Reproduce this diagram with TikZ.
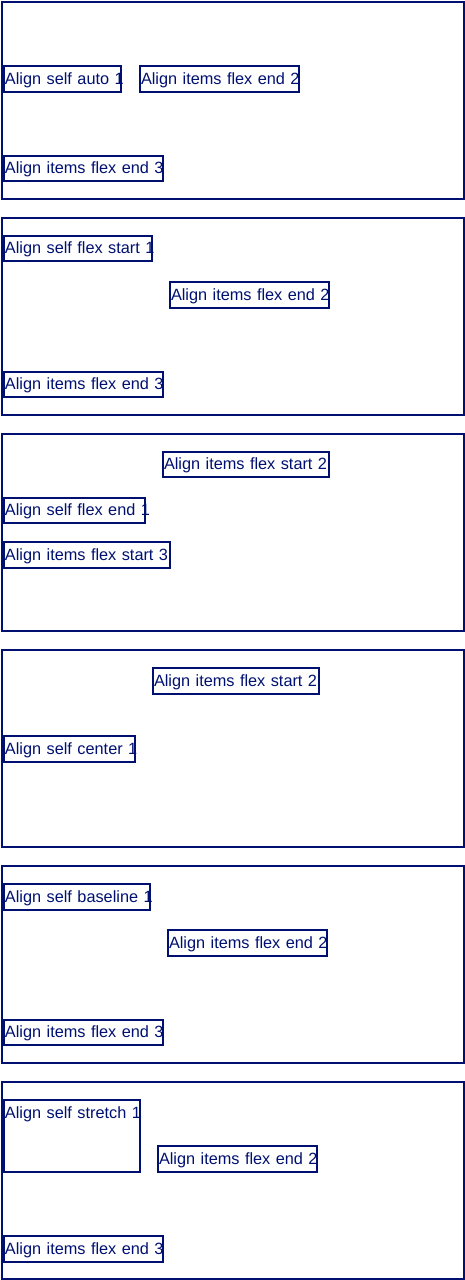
\documentclass[tikz,border=0pt]{standalone}
\usepackage{fontspec}
\setmainfont{Liberation Sans}
\definecolor{ink}{RGB}{0,16,112}
\begin{document}
\begin{tikzpicture}[x=1pt,y=-1pt,
  panel/.style={draw=ink, line width=2pt, anchor=north west, minimum width=462pt,
    minimum height=197pt, inner sep=0pt},
  item/.style={draw=ink, text=ink, line width=2pt, anchor=north west, inner xsep=1pt,
    inner ysep=0pt, align=left, text height=17.7pt, text depth=7.6pt,
    font=\fontsize{16.3}{19}\selectfont},
  tall/.style={text depth=53.7pt}]
\useasboundingbox (0,0) rectangle (464,1280);

% outer containers
\node[panel] (p1) at (1,1) {};
\node[panel] (p2) at (1,217) {};
\node[panel] (p3) at (1,433) {};
\node[panel] (p4) at (1,649) {};
\node[panel] (p5) at (1,865) {};
\node[panel] (p6) at (1,1081) {};

% align-self: auto
\node[item, text width=115.3pt] (p1a) at (3,65.3) {\mbox{Align self auto 1}};
\node[item, text width=156.7pt] (p1b) at (139,65.3) {\mbox{Align items flex end 2}};
\node[item, text width=156.7pt] (p1c) at (3,155) {\mbox{Align items flex end 3}};

% align-self: flex-start
\node[item, text width=145.7pt] (p2a) at (3,235) {\mbox{Align self flex start 1}};
\node[item, text width=156.7pt] (p2b) at (169,281.3) {\mbox{Align items flex end 2}};
\node[item, text width=156.7pt] (p2c) at (3,371) {\mbox{Align items flex end 3}};

% align-self: flex-end
\node[item, text width=163.7pt] (p3b) at (162,451) {\mbox{Align items flex start 2}};
\node[item, text width=138.7pt] (p3a) at (3,497) {\mbox{Align self flex end 1}};
\node[item, text width=163.7pt] (p3c) at (3,541.3) {\mbox{Align items flex start 3}};

% align-self: center
\node[item, text width=163.7pt] (p4b) at (152,667.3) {\mbox{Align items flex start 2}};
\node[item, text width=128.7pt] (p4a) at (3,735.3) {\mbox{Align self center 1}};

% align-self: baseline
\node[item, text width=143.7pt] (p5a) at (3,883.3) {\mbox{Align self baseline 1}};
\node[item, text width=156.7pt] (p5b) at (167,929.3) {\mbox{Align items flex end 2}};
\node[item, text width=156.7pt] (p5c) at (3,1019) {\mbox{Align items flex end 3}};

% align-self: stretch
\node[item, tall, text width=133.7pt] (p6a) at (3,1099.3) {\mbox{Align self stretch 1}};
\node[item, text width=156.7pt] (p6b) at (157,1145.3) {\mbox{Align items flex end 2}};
\node[item, text width=156.7pt] (p6c) at (3,1235.3) {\mbox{Align items flex end 3}};
\end{tikzpicture}
\end{document}
